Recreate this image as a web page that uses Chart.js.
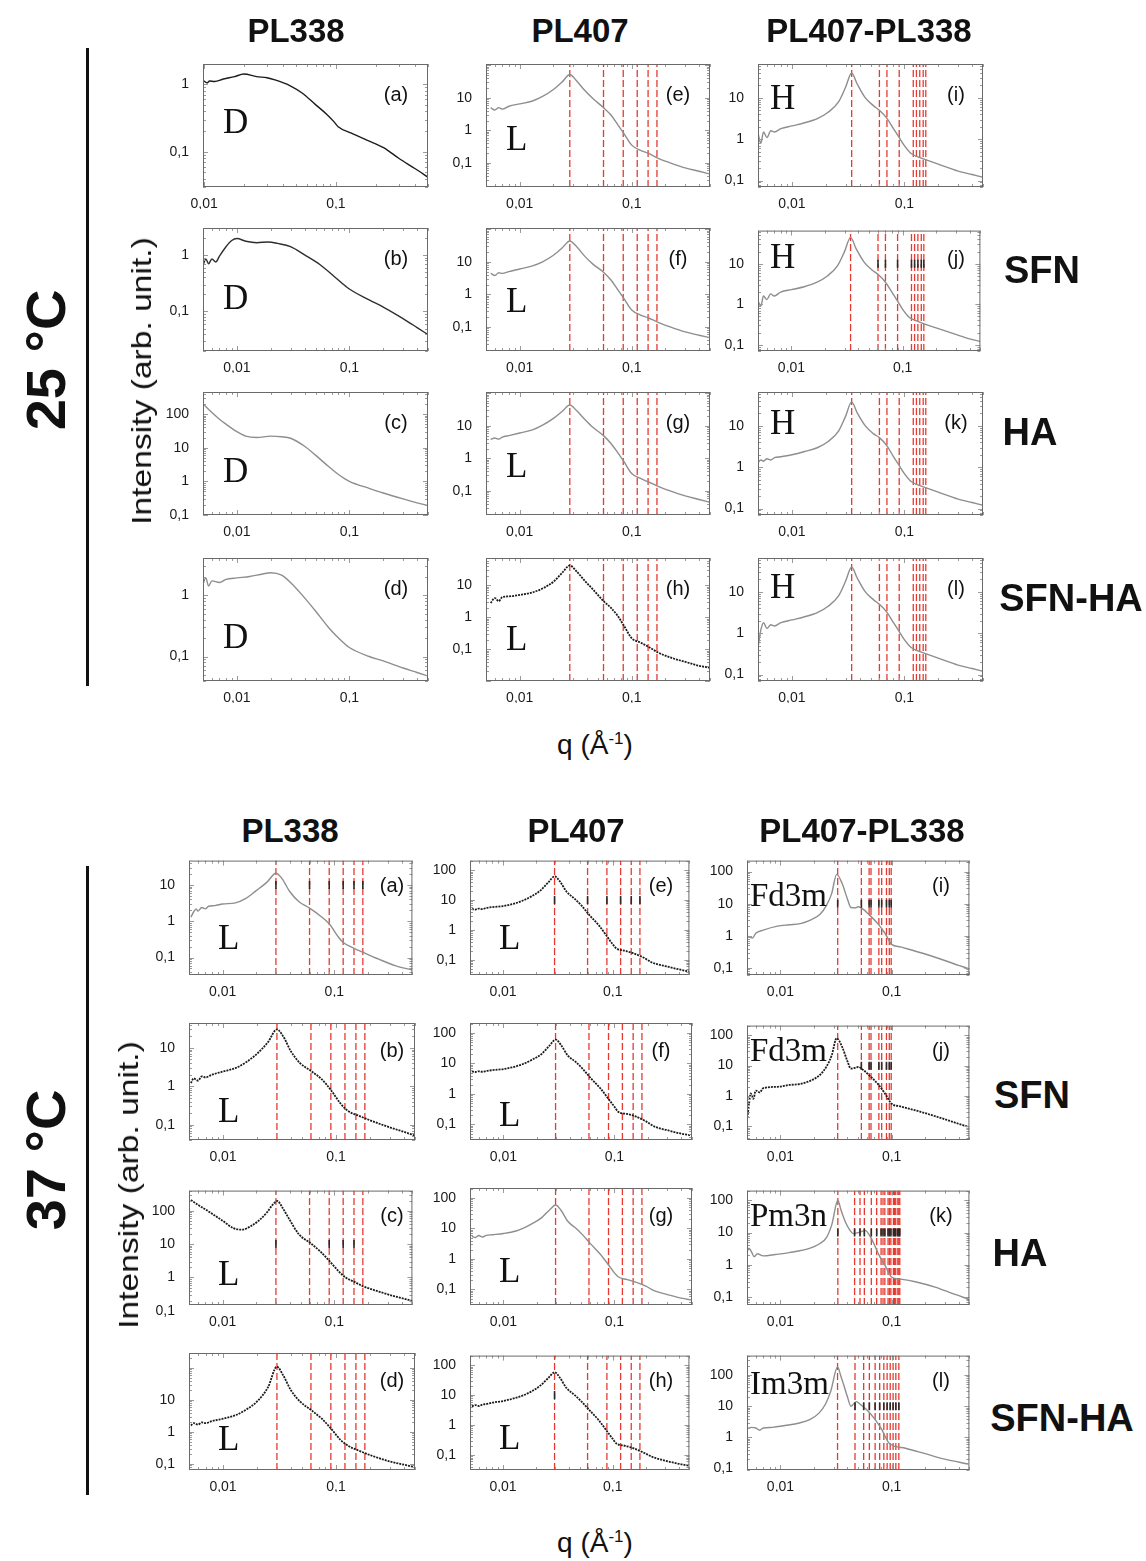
<!DOCTYPE html>
<html>
<head>
<meta charset="utf-8">
<title>SAXS profiles 25 / 37 °C</title>
<script src="https://cdn.jsdelivr.net/npm/chart.js@4.4.1/dist/chart.umd.min.js"></script>
<style>
  body { margin: 0; background: #fff; }
  #page { position: relative; width: 1146px; height: 1561px; overflow: hidden; font-family: Arial, "Liberation Sans", sans-serif; color: #111; }
  .lbl { position: absolute; transform: translate(-50%, -50%); white-space: nowrap; }
  .head { font-weight: bold; font-size: 33px; }
  .temp { font-weight: bold; font-size: 56px; transform: translate(-50%, -50%) rotate(-90deg); }
  .axis { font-size: 28px; }
  .rot { transform: translate(-50%, -50%) rotate(-90deg) scaleX(1.2); }
  .row { font-weight: bold; font-size: 38px; }
  .bar { position: absolute; left: 86px; width: 3px; background: #111; }
  .pl { position: absolute; font-size: 20px; transform: translate(-50%, -50%); }
  .ph { position: absolute; font-family: "Liberation Serif", "DejaVu Serif", serif; font-size: 35px; transform: translate(0, -50%); line-height: 1; }
  .ph.cub { font-size: 33px; }
  canvas { position: absolute; }
</style>
</head>
<body>
<div id="page"></div>
<script>
// tick labels
var xTicks = [0.01, 0.1]
var yT1 = [0.1, 1]
var yT2 = [0.1, 1, 10]
var yT3 = [0.1, 1, 10, 100]

// Bragg positions (q, 1/A) of the red dashed lines
var lam25 = [0.028, 0.056, 0.084, 0.112, 0.14, 0.168]
var hex25 = [0.034, 0.06, 0.07, 0.09, 0.12, 0.128, 0.137, 0.147, 0.155]
var lam37 = [0.03, 0.06, 0.09, 0.12, 0.15, 0.18]
var lam37b = [0.0295, 0.059, 0.0885, 0.118, 0.1475, 0.177]
var fd3m = [0.0327, 0.0534, 0.0627, 0.0652, 0.0767, 0.0813, 0.0898, 0.0952, 0.099]
var pm3n = [0.0328, 0.0464, 0.0519, 0.0568, 0.0656, 0.0733, 0.0803, 0.0836, 0.0868, 0.0928, 0.0956, 0.0984, 0.1037, 0.1063, 0.1088, 0.1136, 0.116, 0.1183]
var im3m = [0.0326, 0.0468, 0.056, 0.063, 0.071, 0.078, 0.085, 0.091, 0.097, 0.103, 0.109, 0.116]

// 25 °C curves
var q25a = [0.0098, 0.0105, 0.011, 0.012, 0.014, 0.017, 0.02, 0.025, 0.03, 0.035, 0.045, 0.055, 0.07, 0.085, 0.098, 0.104, 0.13, 0.17, 0.23, 0.3, 0.4, 0.5]
var i25a = [1.15, 1.05, 1.12, 1.1, 1.2, 1.3, 1.42, 1.3, 1.25, 1.15, 0.95, 0.75, 0.5, 0.36, 0.27, 0.235, 0.19, 0.15, 0.115, 0.08, 0.056, 0.042]
var q25b = [0.005, 0.0053, 0.0056, 0.006, 0.0065, 0.007, 0.008, 0.009, 0.01, 0.012, 0.015, 0.019, 0.023, 0.03, 0.04, 0.055, 0.075, 0.1, 0.15, 0.2, 0.3, 0.4, 0.5]
var i25b = [0.65, 0.85, 0.7, 0.85, 0.75, 0.95, 1.4, 1.8, 1.95, 1.75, 1.65, 1.7, 1.6, 1.4, 1.0, 0.67, 0.4, 0.25, 0.16, 0.12, 0.075, 0.052, 0.039]
var q25c = [0.005, 0.006, 0.007, 0.008, 0.01, 0.012, 0.015, 0.02, 0.025, 0.03, 0.04, 0.05, 0.065, 0.08, 0.1, 0.15, 0.2, 0.3, 0.4, 0.5]
var i25c = [200, 110, 70, 50, 30, 22, 20, 22, 21, 19, 11, 6, 2.8, 1.6, 1.0, 0.62, 0.45, 0.3, 0.23, 0.19]
var q25d = [0.005, 0.0053, 0.0056, 0.006, 0.007, 0.008, 0.01, 0.013, 0.017, 0.02, 0.025, 0.03, 0.04, 0.05, 0.065, 0.08, 0.1, 0.15, 0.2, 0.3, 0.4, 0.5]
var i25d = [1.5, 1.9, 1.4, 1.7, 1.6, 1.8, 1.9, 2.0, 2.2, 2.3, 2.1, 1.6, 0.9, 0.55, 0.3, 0.2, 0.14, 0.1, 0.085, 0.065, 0.055, 0.048]
var q25L = [0.0055, 0.006, 0.0065, 0.007, 0.008, 0.01, 0.013, 0.016, 0.02, 0.024, 0.028, 0.032, 0.038, 0.045, 0.056, 0.065, 0.075, 0.085, 0.1, 0.12, 0.14, 0.17, 0.22, 0.3, 0.4, 0.5]
var i25e = [5, 4.2, 5, 4.5, 5.5, 6.5, 8, 11, 18, 31, 52, 34, 17, 9.5, 5, 3, 1.5, 0.8, 0.35, 0.24, 0.2, 0.14, 0.1, 0.07, 0.055, 0.045]
var i25f = [4.5, 3.8, 4.6, 4.4, 5, 6, 7.5, 10, 16, 27, 44, 30, 15, 8.5, 4.8, 2.8, 1.4, 0.75, 0.33, 0.23, 0.19, 0.14, 0.1, 0.07, 0.055, 0.046]
var i25g = [3.8, 4.2, 3.9, 4.5, 5, 6, 7.5, 10.5, 17, 28, 44, 30, 16, 9, 5, 2.9, 1.5, 0.8, 0.34, 0.24, 0.19, 0.14, 0.1, 0.07, 0.054, 0.044]
var i25h = [2.8, 4, 3.2, 4.3, 4.5, 5, 6, 8, 13, 25, 42, 28, 14, 7.5, 3.2, 2, 1.1, 0.55, 0.22, 0.16, 0.12, 0.08, 0.055, 0.04, 0.03, 0.026]
var q25H = [0.005, 0.0053, 0.0056, 0.006, 0.0065, 0.007, 0.008, 0.01, 0.013, 0.017, 0.021, 0.026, 0.03, 0.034, 0.038, 0.045, 0.053, 0.06, 0.07, 0.08, 0.09, 0.1, 0.115, 0.13, 0.15, 0.2, 0.3, 0.4, 0.5]
var i25i = [1.4, 0.8, 1.5, 1.1, 1.6, 1.5, 1.8, 2.1, 2.5, 3.2, 4.5, 8, 18, 40, 22, 10, 6.5, 5, 3.2, 1.8, 1.1, 0.7, 0.45, 0.38, 0.33, 0.25, 0.17, 0.14, 0.12]
var i25j = [1.2, 0.9, 1.6, 1.3, 1.8, 1.6, 2.0, 2.3, 2.7, 3.5, 5, 9, 20, 45, 24, 11, 7, 5.5, 3.5, 2.0, 1.2, 0.75, 0.47, 0.4, 0.34, 0.26, 0.18, 0.14, 0.12]
var i25k = [1.3, 1.5, 1.4, 1.6, 1.5, 1.7, 1.8, 2.0, 2.4, 3.0, 4.2, 7.5, 17, 38, 21, 10, 6.5, 5.2, 3.3, 1.8, 1.1, 0.7, 0.45, 0.38, 0.33, 0.25, 0.17, 0.14, 0.12]
var i25l = [0.45, 1.2, 1.8, 1.3, 1.6, 1.5, 1.8, 2.1, 2.5, 3.2, 4.5, 8, 18, 40, 22, 10, 6.5, 5, 3.2, 1.8, 1.1, 0.7, 0.45, 0.38, 0.33, 0.25, 0.17, 0.14, 0.12]

// 37 °C curves
var q37a = [0.0052, 0.0055, 0.0058, 0.006, 0.0065, 0.007, 0.0075, 0.0085, 0.01, 0.013, 0.016, 0.02, 0.025, 0.03, 0.034, 0.04, 0.048, 0.06, 0.075, 0.09, 0.11, 0.12, 0.15, 0.18, 0.25, 0.35, 0.5]
var i37a = [1.3, 1.8, 2.2, 1.9, 2.4, 2.2, 2.6, 2.7, 3.0, 3.2, 4.2, 7, 12, 21, 15, 6.5, 3.5, 2.3, 1.4, 0.85, 0.35, 0.26, 0.18, 0.14, 0.09, 0.06, 0.045]
var q37b = [0.0052, 0.0055, 0.006, 0.0065, 0.007, 0.008, 0.01, 0.013, 0.016, 0.02, 0.025, 0.03, 0.034, 0.04, 0.048, 0.06, 0.075, 0.09, 0.11, 0.13, 0.16, 0.2, 0.3, 0.4, 0.5]
var i37b = [1.2, 1.6, 1.4, 1.8, 1.7, 2.0, 2.4, 3.0, 4.2, 7, 14, 30, 20, 8, 4, 2.5, 1.5, 0.8, 0.35, 0.22, 0.17, 0.13, 0.085, 0.065, 0.052]
var i37d = [1.6, 1.9, 1.7, 2.0, 1.9, 2.2, 2.6, 3.4, 5, 9, 25, 110, 60, 20, 9, 4.9, 2.6, 1.3, 0.56, 0.36, 0.26, 0.19, 0.12, 0.095, 0.08]
var q37c = [0.0052, 0.006, 0.007, 0.008, 0.01, 0.0125, 0.015, 0.018, 0.021, 0.025, 0.028, 0.031, 0.034, 0.039, 0.048, 0.062, 0.075, 0.094, 0.11, 0.126, 0.15, 0.18, 0.25, 0.35, 0.5]
var i37c = [210, 150, 110, 82, 50, 30, 27, 35, 50, 90, 150, 195, 130, 60, 20, 10.3, 6, 2.7, 1.5, 1.0, 0.75, 0.55, 0.38, 0.27, 0.2]
var q37L = [0.0052, 0.0056, 0.006, 0.0065, 0.007, 0.008, 0.01, 0.013, 0.015, 0.018, 0.022, 0.026, 0.0296, 0.033, 0.038, 0.045, 0.052, 0.061, 0.075, 0.089, 0.1, 0.108, 0.13, 0.151, 0.19, 0.23, 0.3, 0.4, 0.5]
var i37e = [5, 4.8, 5.2, 5, 5.4, 5.8, 6.3, 7.8, 9.5, 13, 21, 40, 62, 42, 19, 11, 6.5, 3.2, 1.4, 0.6, 0.33, 0.24, 0.2, 0.17, 0.12, 0.08, 0.062, 0.048, 0.04]
var i37f = [5.5, 5.2, 5.5, 5.3, 5.6, 6, 6.5, 8, 9.5, 13, 20, 38, 60, 40, 18, 11, 6.5, 3.3, 1.5, 0.66, 0.38, 0.26, 0.22, 0.19, 0.13, 0.085, 0.065, 0.05, 0.044]
var i37g = [5.5, 5, 5.8, 5.2, 5.9, 6.2, 6.8, 8.2, 10, 14, 22, 40, 58, 39, 17, 10, 6, 3.1, 1.4, 0.62, 0.35, 0.26, 0.21, 0.18, 0.13, 0.09, 0.068, 0.052, 0.045]
var i37h = [4.2, 4.6, 4.3, 4.8, 5, 5.6, 6.3, 8, 9.5, 13, 21, 38, 58, 38, 17, 10, 6, 3.2, 1.4, 0.6, 0.34, 0.24, 0.2, 0.17, 0.12, 0.085, 0.064, 0.05, 0.043]
var q37i = [0.005, 0.0053, 0.0056, 0.006, 0.007, 0.0094, 0.012, 0.0151, 0.019, 0.0227, 0.026, 0.0289, 0.032, 0.036, 0.04, 0.043, 0.047, 0.05, 0.056, 0.062, 0.075, 0.087, 0.1, 0.12, 0.151, 0.2, 0.3, 0.4, 0.49]
var i37i = [1.0, 0.9, 0.85, 1.2, 1.5, 2.0, 2.2, 2.4, 3.2, 4.7, 9, 21, 82, 41, 14, 7.6, 7.4, 8, 6.5, 4.7, 2.4, 1.2, 0.54, 0.45, 0.36, 0.27, 0.17, 0.12, 0.095]
var q37j = [0.005, 0.0052, 0.0054, 0.0057, 0.006, 0.0065, 0.007, 0.0094, 0.012, 0.0151, 0.019, 0.0227, 0.026, 0.0289, 0.032, 0.036, 0.04, 0.043, 0.047, 0.05, 0.056, 0.062, 0.075, 0.087, 0.1, 0.12, 0.151, 0.2, 0.3, 0.4, 0.49]
var i37j = [0.15, 0.5, 1.2, 0.8, 1.5, 1.3, 1.8, 2.0, 2.3, 2.5, 3.3, 5, 9.5, 22, 80, 40, 14, 8, 8.5, 9, 7, 5, 2.5, 1.2, 0.55, 0.45, 0.36, 0.27, 0.17, 0.12, 0.095]
var q37k = [0.005, 0.0052, 0.0055, 0.0058, 0.0062, 0.007, 0.009, 0.012, 0.0185, 0.0225, 0.0259, 0.029, 0.0328, 0.035, 0.038, 0.042, 0.045, 0.05, 0.058, 0.065, 0.077, 0.088, 0.0995, 0.12, 0.163, 0.25, 0.35, 0.49]
var i37k = [2.5, 3.3, 2.5, 1.8, 2.2, 1.9, 2.1, 2.4, 3.3, 4.5, 7, 18, 100, 50, 23, 12, 9.3, 10, 11.5, 7, 2.0, 0.9, 0.42, 0.36, 0.3, 0.2, 0.13, 0.087]
var q37l = [0.005, 0.0055, 0.006, 0.0065, 0.007, 0.0085, 0.011, 0.0148, 0.0185, 0.0222, 0.0255, 0.0283, 0.0326, 0.035, 0.037, 0.04, 0.043, 0.048, 0.053, 0.059, 0.07, 0.0806, 0.095, 0.133, 0.2, 0.3, 0.49]
var i37l = [1.9, 2.1, 2.0, 1.7, 2.0, 2.1, 2.4, 2.9, 3.8, 6, 12, 30, 180, 90, 49, 20, 10, 14, 11, 8, 4, 1.9, 0.65, 0.45, 0.3, 0.2, 0.14]

var K = '#1c1c1c'
var G = '#8e8e8e'
var RED = '#e63a30'

// layout of the two blocks (left, width) and (top) of the panel frames
var colTop = [[203, 225], [486, 224], [758, 225]]
var rowTop = [64, 228, 392, 558]
var colBot = [[189, 226], [470, 222], [747, 225]]
var rowBot = [858, 1023, 1188, 1353]

var panels = [
  // 25 °C
  { b: 0, c: 0, r: 0, q: q25a, I: i25a, col: K, x: [0.0098, 0.5], y: [0.03, 2], yt: yT1, pk: [], mk: [], tag: '(a)', ph: 'D', dy: 57 },
  { b: 0, c: 0, r: 1, q: q25b, I: i25b, col: '#2e2e2e', y: [0.02, 3], yt: yT1, pk: [], mk: [], tag: '(b)', ph: 'D', dy: 69 },
  { b: 0, c: 0, r: 2, q: q25c, I: i25c, col: G, y: [0.1, 450], yt: yT3, pk: [], mk: [], tag: '(c)', ph: 'D', dy: 78 },
  { b: 0, c: 0, r: 3, q: q25d, I: i25d, col: G, y: [0.04, 4], yt: yT1, pk: [], mk: [], tag: '(d)', ph: 'D', dy: 78 },
  { b: 0, c: 1, r: 0, q: q25L, I: i25e, col: G, y: [0.018, 110], yt: yT2, pk: lam25, mk: [], tag: '(e)', ph: 'L', dy: 74 },
  { b: 0, c: 1, r: 1, q: q25L, I: i25f, col: G, y: [0.018, 110], yt: yT2, pk: lam25, mk: [], tag: '(f)', ph: 'L', dy: 72 },
  { b: 0, c: 1, r: 2, q: q25L, I: i25g, col: G, y: [0.018, 110], yt: yT2, pk: lam25, mk: [], tag: '(g)', ph: 'L', dy: 73 },
  { b: 0, c: 1, r: 3, q: q25L, I: i25h, col: K, dot: true, y: [0.01, 72], yt: yT2, pk: lam25, mk: [], tag: '(h)', ph: 'L', dy: 80 },
  { b: 0, c: 2, r: 0, q: q25H, I: i25i, col: G, y: [0.07, 66], yt: yT2, pk: hex25, mk: [], tag: '(i)', ph: 'H', dy: 33 },
  { b: 0, c: 2, r: 1, q: q25H, I: i25j, col: G, y: [0.07, 66], yt: yT2, pk: hex25, mk: hex25.slice(1), tag: '(j)', ph: 'H', dy: 28 },
  { b: 0, c: 2, r: 2, q: q25H, I: i25k, col: G, y: [0.07, 66], yt: yT2, pk: hex25, mk: [], tag: '(k)', ph: 'H', dy: 30 },
  { b: 0, c: 2, r: 3, q: q25H, I: i25l, col: G, y: [0.07, 66], yt: yT2, pk: hex25, mk: [], tag: '(l)', ph: 'H', dy: 28 },
  // 37 °C
  { b: 1, c: 0, r: 0, q: q37a, I: i37a, col: G, y: [0.033, 47], yt: yT2, pk: lam37, mk: lam37, tag: '(a)', ph: 'L', dy: 79 },
  { b: 1, c: 0, r: 1, q: q37b, I: i37b, col: K, dot: true, y: [0.04, 44], yt: yT2, pk: lam37, mk: [], tag: '(b)', ph: 'L', dy: 87 },
  { b: 1, c: 0, r: 2, q: q37c, I: i37c, col: K, dot: true, y: [0.15, 400], yt: yT3, pk: lam37, mk: [0.03, 0.09, 0.12, 0.15], tag: '(c)', ph: 'L', dy: 85 },
  { b: 1, c: 0, r: 3, q: q37b, I: i37d, col: K, dot: true, y: [0.065, 295], yt: yT2, pk: lam37, mk: [], tag: '(d)', ph: 'L', dy: 85 },
  { b: 1, c: 1, r: 0, q: q37L, I: i37e, col: K, dot: true, y: [0.031, 209], yt: yT3, pk: lam37b, mk: lam37b, tag: '(e)', ph: 'L', dy: 79 },
  { b: 1, c: 1, r: 1, q: q37L, I: i37f, col: K, dot: true, y: [0.031, 209], yt: yT3, pk: lam37b, mk: [], tag: '(f)', ph: 'L', dy: 91 },
  { b: 1, c: 1, r: 2, q: q37L, I: i37g, col: G, y: [0.031, 209], yt: yT3, pk: lam37b, mk: [], tag: '(g)', ph: 'L', dy: 82 },
  { b: 1, c: 1, r: 3, q: q37L, I: i37h, col: K, dot: true, y: [0.031, 209], yt: yT3, pk: lam37b, mk: [0.0295], tag: '(h)', ph: 'L', dy: 84 },
  { b: 1, c: 2, r: 0, q: q37i, I: i37i, col: G, y: [0.06, 220], yt: yT3, pk: fd3m, mk: fd3m, tag: '(i)', ph: 'Fd3m', dy: 37 },
  { b: 1, c: 2, r: 1, q: q37j, I: i37j, col: K, dot: true, y: [0.035, 210], yt: yT3, pk: fd3m, mk: fd3m.slice(1), tag: '(j)', ph: 'Fd3m', dy: 27 },
  { b: 1, c: 2, r: 2, q: q37k, I: i37k, col: G, y: [0.057, 200], yt: yT3, pk: pm3n, mk: pm3n, tag: '(k)', ph: 'Pm3n', dy: 27 },
  { b: 1, c: 2, r: 3, q: q37l, I: i37l, col: G, y: [0.09, 420], yt: yT3, pk: im3m, mk: im3m.slice(1), tag: '(l)', ph: 'Im3m', dy: 30 }
]

var page = document.getElementById('page')

function addText (html, cls, x, y) {
  var d = document.createElement('div')
  d.className = cls
  d.innerHTML = html
  d.style.left = x + 'px'
  d.style.top = y + 'px'
  page.appendChild(d)
  return d
}

function fmt (v) {
  return String(v).replace('.', ',')
}

function commaLabels (s) {
  s.ticks.forEach(function (t) { t.label = fmt(t.value) })
}

// frame + inward minor ticks, placed through the scales
var framePlugin = {
  id: 'frame',
  afterDraw: function (chart) {
    var ctx = chart.ctx
    var a = chart.chartArea
    var sx = chart.scales.x
    var sy = chart.scales.y
    ctx.save()
    ctx.strokeStyle = '#9a9a9a'
    ctx.lineWidth = 1
    function seg (x1, y1, x2, y2) {
      ctx.beginPath(); ctx.moveTo(x1, y1); ctx.lineTo(x2, y2); ctx.stroke()
    }
    function each (min, max, fn) {
      for (var e = Math.floor(Math.log10(min)); e <= Math.ceil(Math.log10(max)); e++) {
        for (var m = 1; m < 10; m++) {
          var v = m * Math.pow(10, e)
          if (v >= min && v <= max) fn(v, m === 1)
        }
      }
    }
    each(sx.min, sx.max, function (v, major) {
      var p = Math.round(sx.getPixelForValue(v)) + 0.5
      var l = major ? 5 : 3
      seg(p, a.bottom, p, a.bottom - l)
      seg(p, a.top, p, a.top + l)
    })
    each(sy.min, sy.max, function (v, major) {
      var p = Math.round(sy.getPixelForValue(v)) + 0.5
      var l = major ? 5 : 3
      seg(a.left, p, a.left + l, p)
      seg(a.right, p, a.right - l, p)
    })
    ctx.strokeStyle = '#6a6a6a'
    ctx.strokeRect(a.left + 0.5, a.top + 0.5, a.width - 1, a.height - 1)
    ctx.restore()
  }
}

var PADL = 46
var PADB = 22
var PADT = 3
var PADR = 3

panels.forEach(function (p) {
  var cols = p.b ? colBot : colTop
  var rows = p.b ? rowBot : rowTop
  var left = cols[p.c][0]
  var w = cols[p.c][1]
  var top = rows[p.r]
  var h = p.b ? 117 : 123
  var xr = p.x || [0.005, 0.5]

  var cv = document.createElement('canvas')
  cv.width = w + PADL + PADR
  cv.height = h + PADT + PADB
  cv.style.left = (left - PADL) + 'px'
  cv.style.top = (top - PADT) + 'px'
  page.appendChild(cv)

  var ds = []
  ds.push({
    data: p.q.map(function (x, i) { return { x: x, y: p.I[i] } }),
    borderColor: p.col,
    borderWidth: p.dot ? 1.8 : 1.4,
    borderDash: p.dot ? [2, 1] : [],
    pointRadius: 0,
    cubicInterpolationMode: 'monotone',
    order: 1
  })
  p.pk.forEach(function (q) {
    ds.push({
      data: [{ x: q, y: p.y[0] }, { x: q, y: p.y[1] }],
      borderColor: RED,
      borderWidth: 1.3,
      borderDash: [7, 3],
      pointRadius: 0,
      order: 2
    })
  })
  if (p.mk.length) {
    ds.push({
      data: p.mk.map(function (q) { return { x: q, y: 10 } }),
      showLine: false,
      pointStyle: 'line',
      rotation: 90,
      pointRadius: 4,
      borderColor: '#2a2a2a',
      borderWidth: 1.6,
      order: 0
    })
  }

  new Chart(cv, {
    type: 'line',
    data: { datasets: ds },
    options: {
      responsive: false,
      animation: false,
      devicePixelRatio: 1,
      layout: { padding: { top: PADT, right: PADR, left: 0, bottom: 0 } },
      plugins: { legend: { display: false }, tooltip: { enabled: false } },
      scales: {
        x: {
          type: 'logarithmic',
          min: xr[0],
          max: xr[1],
          grid: { display: false },
          border: { display: false },
          afterBuildTicks: function (s) { s.ticks = xTicks.map(function (v) { return { value: v } }) },
          afterTickToLabelConversion: commaLabels,
          afterFit: function (s) { s.height = PADB; s.paddingLeft = 0; s.paddingRight = 0 },
          ticks: { autoSkip: false, maxRotation: 0, padding: 1, color: '#1a1a1a', font: { family: 'Arial', size: 14 } }
        },
        y: {
          type: 'logarithmic',
          min: p.y[0],
          max: p.y[1],
          grid: { display: false },
          border: { display: false },
          afterBuildTicks: function (s) { s.ticks = p.yt.map(function (v) { return { value: v } }) },
          afterTickToLabelConversion: commaLabels,
          afterFit: function (s) { s.width = PADL; s.paddingTop = 0; s.paddingBottom = 0 },
          ticks: { autoSkip: false, padding: 6, color: '#1a1a1a', font: { family: 'Arial', size: 14 } }
        }
      }
    },
    plugins: [framePlugin]
  })

  addText(p.tag, 'pl', left + w - (p.b ? (p.c === 0 ? 23 : 31) : (p.c === 2 ? 27 : 32)), top + (p.b ? 27 : 30))
  var cub = p.ph.length > 1
  addText(p.ph, cub ? 'ph cub' : 'ph', left + (cub ? 3 : (p.b ? 29 : (p.c === 2 ? 12 : 20))), top + p.dy)
})

// headings and side labels
addText('PL338', 'lbl head', 296, 31)
addText('PL407', 'lbl head', 580, 31)
addText('PL407-PL338', 'lbl head', 869, 31)
addText('PL338', 'lbl head', 290, 831)
addText('PL407', 'lbl head', 576, 831)
addText('PL407-PL338', 'lbl head', 862, 831)

addText('25 °C', 'lbl temp', 45, 360)
addText('37 °C', 'lbl temp', 45, 1160)
addText('Intensity (arb. unit.)', 'lbl axis rot', 142, 381)
addText('Intensity (arb. unit.)', 'lbl axis rot', 129, 1185)
addText('q (Å<sup style="font-size:17px">-1</sup>)', 'lbl axis', 595, 745)
addText('q (Å<sup style="font-size:17px">-1</sup>)', 'lbl axis', 595, 1543)

addText('SFN', 'lbl row', 1042, 270)
addText('HA', 'lbl row', 1030, 432)
addText('SFN-HA', 'lbl row', 1071, 598)
addText('SFN', 'lbl row', 1032, 1095)
addText('HA', 'lbl row', 1020, 1253)
addText('SFN-HA', 'lbl row', 1062, 1418)

var bar1 = document.createElement('div')
bar1.className = 'bar'
bar1.style.top = '48px'
bar1.style.height = '638px'
page.appendChild(bar1)
var bar2 = document.createElement('div')
bar2.className = 'bar'
bar2.style.top = '866px'
bar2.style.height = '629px'
page.appendChild(bar2)
</script>
</body>
</html>
